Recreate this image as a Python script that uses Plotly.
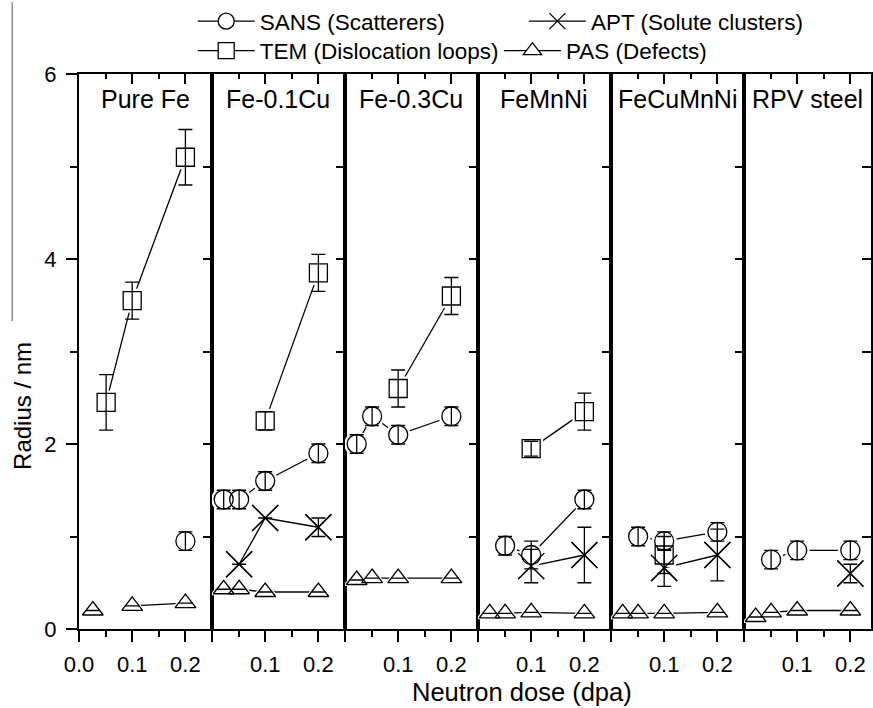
import plotly.graph_objects as go

# ---------------- data ----------------
panels = ["Pure Fe", "Fe-0.1Cu", "Fe-0.3Cu", "FeMnNi", "FeCuMnNi", "RPV steel"]

sans_dose = [[0.2], [0.022, 0.051, 0.1, 0.2], [0.022, 0.051, 0.1, 0.2],
             [0.051, 0.1, 0.2], [0.051, 0.1, 0.2], [0.051, 0.1, 0.2]]
sans_radius = [[0.95], [1.4, 1.4, 1.6, 1.9], [2.0, 2.3, 2.1, 2.3],
               [0.9, 0.8, 1.4], [1.0, 0.95, 1.05], [0.75, 0.85, 0.85]]
sans_err = [[0.1], [0.1, 0.1, 0.1, 0.1], [0.1, 0.1, 0.1, 0.1],
            [0.1, 0.15, 0.1], [0.1, 0.1, 0.1], [0.1, 0.1, 0.1]]

apt_dose = [[], [0.051, 0.1, 0.2], [], [0.1, 0.2], [0.1, 0.2], [0.2]]
apt_radius = [[], [0.7, 1.2, 1.1], [], [0.68, 0.8], [0.66, 0.8], [0.6]]
apt_err = [[], [0, 0, 0.1], [], [0.18, 0.3], [0.2, 0.28], [0.1]]

tem_dose = [[0.051, 0.1, 0.2], [0.1, 0.2], [0.1, 0.2], [0.1, 0.2], [0.1], []]
tem_radius = [[2.45, 3.55, 5.1], [2.25, 3.85], [2.6, 3.6], [1.95, 2.35], [0.8], []]
tem_err = [[0.3, 0.2, 0.3], [0.1, 0.2], [0.2, 0.2], [0.08, 0.2], [0.2], []]

pas_dose = [[0.026, 0.051, 0.1, 0.2], [0.022, 0.051, 0.1, 0.2], [0.022, 0.051, 0.1, 0.2],
            [0.022, 0.051, 0.1, 0.2], [0.022, 0.051, 0.1, 0.2], [0.022, 0.051, 0.1, 0.2]]
pas_radius = [[0.2, None, 0.25, 0.28], [0.43, 0.43, 0.4, 0.4], [0.53, 0.55, 0.55, 0.55],
              [0.17, 0.17, 0.18, 0.17], [0.17, 0.17, 0.17, 0.18], [0.13, 0.18, 0.2, 0.2]]
pas_err = [[0, 0, 0, 0]] * 6

series_names = ["SANS (Scatterers)", "APT (Solute clusters)",
                "TEM (Dislocation loops)", "PAS (Defects)"]

x_ticks_first = [0.0, 0.1, 0.2]
x_ticks_other = [0.0, 0.1, 0.2]
x_text_first = ["0.0", "0.1", "0.2"]
x_text_other = ["", "0.1", "0.2"]
y_ticks = [0, 2, 4, 6]

# ---------------- styling ----------------
FONT = "Liberation Sans, Arial, sans-serif"
W, H = 873, 708
ML, MR, MT, MB = 79, 0, 72, 79
PW = W - ML - MR
PH = H - MT - MB
PANEL_PX = 133.33
XMAX = 0.25

series = [
    dict(dose=sans_dose, rad=sans_radius, err=sans_err, sym="circle", size=19, mask=25, legend="legend"),
    dict(dose=apt_dose, rad=apt_radius, err=apt_err, sym="x-thin", size=26, mask=0, legend="legend2"),
    dict(dose=tem_dose, rad=tem_radius, err=tem_err, sym="square", size=18, mask=24, legend="legend3"),
    dict(dose=pas_dose, rad=pas_radius, err=pas_err, sym="triangle-up", size=18, mask=24, legend="legend4"),
]

fig = go.Figure()
LW = 1.3


def ax(i):
    return ("x" if i == 0 else f"x{i+1}"), ("y" if i == 0 else f"y{i+1}")


# Layer A: lines (+ legend)
for s_idx, s in enumerate(series):
    shown = False
    for i in range(6):
        if not s["dose"][i]:
            continue
        xa, ya = ax(i)
        fill = "white" if s["sym"] != "x-thin" else "black"
        sym = s["sym"] if s["sym"] != "x-thin" else "x-thin-open"
        fig.add_trace(go.Scatter(
            x=s["dose"][i], y=s["rad"][i], xaxis=xa, yaxis=ya,
            mode="lines+markers", name=series_names[s_idx],
            line=dict(color="black", width=LW),
            marker=dict(symbol=sym, size=s["size"], color=fill,
                        line=dict(color="black", width=LW)),
            showlegend=not shown, legend=s["legend"], hoverinfo="skip"))
        shown = True

# Layer B: white masks
for s in series:
    if not s["mask"]:
        continue
    for i in range(6):
        if not s["dose"][i]:
            continue
        xa, ya = ax(i)
        fig.add_trace(go.Scatter(
            x=s["dose"][i], y=s["rad"][i], xaxis=xa, yaxis=ya, mode="markers",
            marker=dict(symbol=s["sym"], size=s["mask"], color="white",
                        line=dict(width=0)),
            showlegend=False, hoverinfo="skip"))

# Layer C: open markers + error bars
for s in series:
    for i in range(6):
        if not s["dose"][i]:
            continue
        xa, ya = ax(i)
        fig.add_trace(go.Scatter(
            x=s["dose"][i], y=s["rad"][i], xaxis=xa, yaxis=ya, mode="markers",
            marker=dict(symbol=s["sym"] + "-open", size=s["size"], color="black",
                        line=dict(color="black", width=LW)),
            error_y=dict(type="data", array=s["err"][i], visible=True,
                         color="black", thickness=LW, width=7),
            showlegend=False, hoverinfo="skip"))

layout = dict(
    width=W, height=H,
    margin=dict(l=ML, r=MR, t=MT, b=MB, pad=0),
    paper_bgcolor="white", plot_bgcolor="white",
    font=dict(family=FONT, size=22, color="black"),
    showlegend=True,
)

tickfont = dict(family=FONT, size=22, color="black")
for i in range(6):
    d0 = i * PANEL_PX / PW
    d1 = min((i + 1) * PANEL_PX / PW, 1.0)
    xmax = XMAX * (d1 - d0) * PW / PANEL_PX
    xa, ya = ax(i)
    xk = "xaxis" if i == 0 else f"xaxis{i+1}"
    yk = "yaxis" if i == 0 else f"yaxis{i+1}"
    layout[xk] = dict(
        domain=[d0, d1], range=[0, xmax], anchor=ya,
        showline=True, linecolor="black", linewidth=2, mirror=True,
        ticks="outside", ticklen=11, tickwidth=1.6, tickcolor="black",
        tickvals=x_ticks_first if i == 0 else x_ticks_other,
        ticktext=x_text_first if i == 0 else x_text_other,
        tickfont=tickfont, ticklabelstandoff=4,
        minor=dict(ticks="outside", dtick=0.05, tick0=0, ticklen=6,
                   tickwidth=1.6, tickcolor="black", showgrid=False),
        showgrid=False, zeroline=False, fixedrange=True,
    )
    layout[yk] = dict(
        range=[0, 6], anchor=xa,
        showline=True, linecolor="black", linewidth=2, mirror=True,
        showgrid=False, zeroline=False, fixedrange=True,
    )
    if i == 0:
        layout[yk].update(
            ticks="outside", ticklen=11, tickwidth=1.6, tickcolor="black",
            tickvals=y_ticks, tickfont=tickfont, ticklabelstandoff=5,
            minor=dict(ticks="outside", dtick=1, tick0=0, ticklen=7,
                       tickwidth=1.6, tickcolor="black", showgrid=False))
    else:
        layout[yk].update(showticklabels=False, ticks="")
    # overlay axes for inward top / right ticks
    j = i + 7
    layout[f"xaxis{j}"] = dict(
        overlaying=xa, side="top", anchor=ya, range=[0, xmax],
        ticks="inside", tickvals=[0.1, 0.2], ticklen=10, tickwidth=1.6,
        tickcolor="black", showticklabels=False, showline=False,
        minor=dict(ticks="inside", dtick=0.05, tick0=0, ticklen=5,
                   tickwidth=1.6, tickcolor="black", showgrid=False),
        showgrid=False, zeroline=False, fixedrange=True)
    layout[f"yaxis{j}"] = dict(
        overlaying=ya, side="right", anchor=xa, range=[0, 6],
        ticks="inside", dtick=1, tick0=0, ticklen=9, tickwidth=1.6,
        tickcolor="black", showticklabels=False, showline=False,
        showgrid=False, zeroline=False, fixedrange=True)
    fig.add_trace(go.Scatter(x=[], y=[], xaxis=f"x{j}", yaxis=ya,
                             showlegend=False, hoverinfo="skip"))
    fig.add_trace(go.Scatter(x=[], y=[], xaxis=xa, yaxis=f"y{j}",
                             showlegend=False, hoverinfo="skip"))


def px_to_paper_x(px):
    return (px - ML) / PW


def px_to_paper_y(py):
    return (H - MB - py) / PH


legend_pos = {"legend": (193, 19), "legend2": (525, 19),
              "legend3": (193, 49), "legend4": (500, 49)}
for k, (lx, ly) in legend_pos.items():
    layout[k] = dict(
        x=px_to_paper_x(lx), y=px_to_paper_y(ly), xanchor="left", yanchor="middle",
        orientation="h", bgcolor="rgba(0,0,0,0)", borderwidth=0,
        font=dict(family=FONT, size=22.5, color="black"), itemwidth=57,
        tracegroupgap=0, itemclick=False, itemdoubleclick=False)

annotations = []
for i, name in enumerate(panels):
    xa, _ = ax(i)
    annotations.append(dict(
        text=name, xref=f"{xa} domain", x=0.5, yref="paper",
        y=px_to_paper_y(97), xanchor="center", yanchor="middle",
        showarrow=False, font=dict(family=FONT, size=25, color="black")))
annotations.append(dict(
    text="Neutron dose (dpa)", xref="paper", yref="paper",
    x=px_to_paper_x(523), y=px_to_paper_y(692), xanchor="center", yanchor="middle",
    showarrow=False, font=dict(family=FONT, size=25.5, color="black")))
annotations.append(dict(
    text="Radius / nm", xref="paper", yref="paper", textangle=-90,
    x=px_to_paper_x(23), y=px_to_paper_y(405), xanchor="center", yanchor="middle",
    showarrow=False, font=dict(family=FONT, size=24, color="black")))
layout["annotations"] = annotations
layout["shapes"] = [dict(type="line", xref="paper", yref="paper",
                         x0=px_to_paper_x(12), x1=px_to_paper_x(12),
                         y0=px_to_paper_y(0), y1=px_to_paper_y(320),
                         line=dict(color="#555555", width=1))]

fig.update_layout(**layout)
fig.write_html("out.html", config={"displayModeBar": False})
